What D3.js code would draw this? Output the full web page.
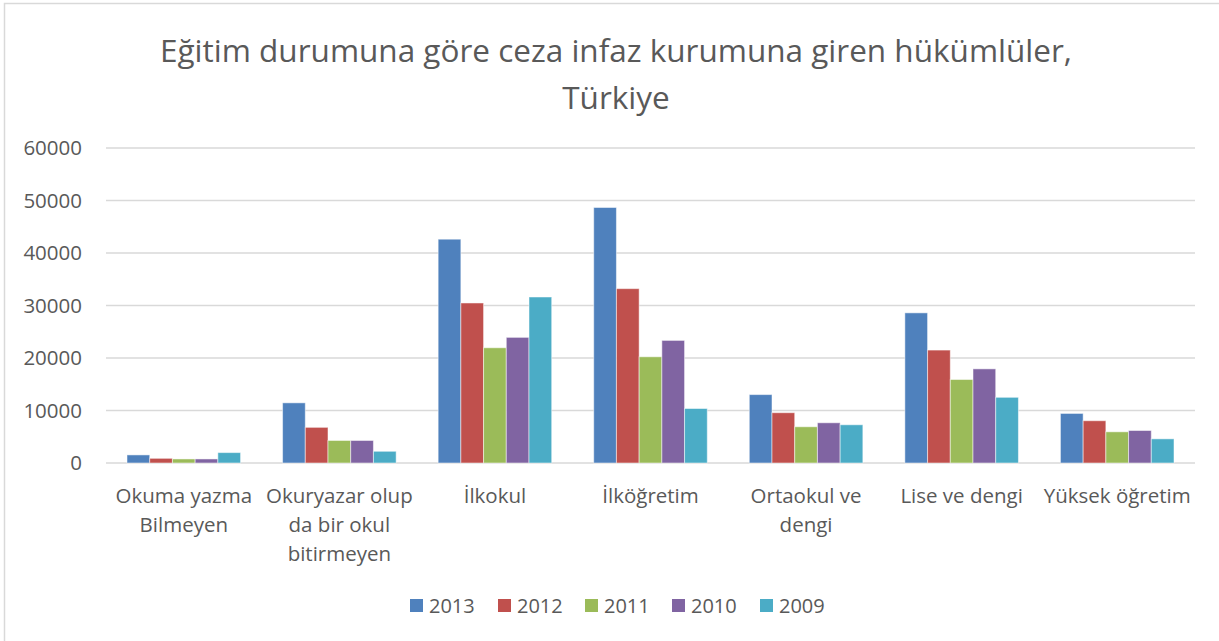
<!DOCTYPE html>
<html>
<head>
<meta charset="utf-8">
<script src="https://cdn.jsdelivr.net/npm/d3@7"></script>
<style>
  body { margin: 0; background: #fff; }
  text { font-family: "Open Sans", "Noto Sans", sans-serif; fill: #595959; }
</style>
</head>
<body>
<div id="chart"></div>
<script>
// data
var categories = ["Okuma yazma\nBilmeyen", "Okuryazar olup\nda bir okul\nbitirmeyen", "İlkokul", "İlköğretim", "Ortaokul ve\ndengi", "Lise ve dengi", "Yüksek öğretim"]
var years = ["2013", "2012", "2011", "2010", "2009"]
var v2013 = [1540, 11460, 42630, 48670, 13030, 28600, 9440]
var v2012 = [890, 6790, 30480, 33210, 9580, 21510, 8050]
var v2011 = [770, 4290, 21950, 20230, 6900, 15900, 5940]
var v2010 = [770, 4290, 23930, 23350, 7660, 17930, 6190]
var v2009 = [1980, 2230, 31620, 10380, 7280, 12510, 4600]
var yTicks = [0, 10000, 20000, 30000, 40000, 50000, 60000]
var colors = ["#4F81BD", "#C0504D", "#9BBB59", "#8064A2", "#4BACC6"]

var series = [v2013, v2012, v2011, v2010, v2009]

var width = 1219
var height = 641
var margin = {top: 148, right: 24, bottom: 178, left: 106}

var svg = d3.select("#chart").append("svg")
  .attr("width", width)
  .attr("height", height)

// chart frame
svg.append("rect")
  .attr("x", 4.5).attr("y", 3.5)
  .attr("width", width + 10).attr("height", height + 10)
  .attr("fill", "none").attr("stroke", "#D9D9D9").attr("stroke-width", 1.5)

// title
var title = svg.append("text")
  .attr("text-anchor", "middle")
  .attr("font-size", 31.5)
title.append("tspan").attr("x", 616).attr("y", 62).text("Eğitim durumuna göre ceza infaz kurumuna giren hükümlüler,")
title.append("tspan").attr("x", 616).attr("y", 109).text("Türkiye")

var x = d3.scaleBand()
  .domain(categories)
  .range([margin.left, width - margin.right])
  .paddingInner(0.27)
  .paddingOuter(0.135)

var x1 = d3.scaleBand()
  .domain(years)
  .range([0, x.bandwidth()])

var y = d3.scaleLinear()
  .domain([0, 60000])
  .range([height - margin.bottom, margin.top])

// gridlines
svg.append("g")
  .selectAll("line")
  .data(yTicks)
  .enter().append("line")
    .attr("x1", margin.left)
    .attr("x2", width - margin.right)
    .attr("y1", function(d) { return y(d) })
    .attr("y2", function(d) { return y(d) })
    .attr("stroke", "#D9D9D9")
    .attr("stroke-width", 1.5)

// y axis labels
var yAxis = svg.append("g")
  .attr("transform", "translate(" + margin.left + ",0)")
  .call(d3.axisLeft(y).tickValues(yTicks).tickSize(0).tickPadding(24).tickFormat(d3.format("d")))
yAxis.select(".domain").remove()
yAxis.selectAll("text")
  .attr("font-size", 20.5)
  .attr("fill", "#595959")
  .style("font-family", "'Open Sans', sans-serif")

// bars
var groups = svg.append("g")
  .selectAll("g")
  .data(categories)
  .enter().append("g")
    .attr("transform", function(d) { return "translate(" + x(d) + ",0)" })

groups.selectAll("rect")
  .data(function(d, i) {
    return series.map(function(s, k) { return {year: years[k], value: s[i], k: k} })
  })
  .enter().append("rect")
    .attr("x", function(d) { return x1(d.year) })
    .attr("width", x1.bandwidth())
    .attr("y", function(d) { return y(d.value) })
    .attr("height", function(d) { return y(0) - y(d.value) })
    .attr("fill", function(d) { return colors[d.k] })
    .attr("stroke", "#fff")
    .attr("stroke-opacity", 0.5)
    .attr("stroke-width", 1)

// category labels
var catLabels = svg.append("g")
  .selectAll("text")
  .data(categories)
  .enter().append("text")
    .attr("text-anchor", "middle")
    .attr("font-size", 20.5)

catLabels.each(function(d) {
  var t = d3.select(this)
  var cx = x(d) + x.bandwidth() / 2
  d.split("\n").forEach(function(line, i) {
    t.append("tspan")
      .attr("x", cx)
      .attr("y", 503 + i * 29)
      .text(line)
  })
})

// legend
var legendX = [410, 498, 585, 672, 760]
var legend = svg.append("g")
  .selectAll("g")
  .data(years)
  .enter().append("g")
    .attr("transform", function(d, i) { return "translate(" + legendX[i] + ",599)" })

legend.append("rect")
  .attr("width", 13).attr("height", 13)
  .attr("fill", function(d, i) { return colors[i] })

legend.append("text")
  .attr("x", 19)
  .attr("y", 14)
  .attr("font-size", 20)
  .text(function(d) { return d })
</script>
</body>
</html>
